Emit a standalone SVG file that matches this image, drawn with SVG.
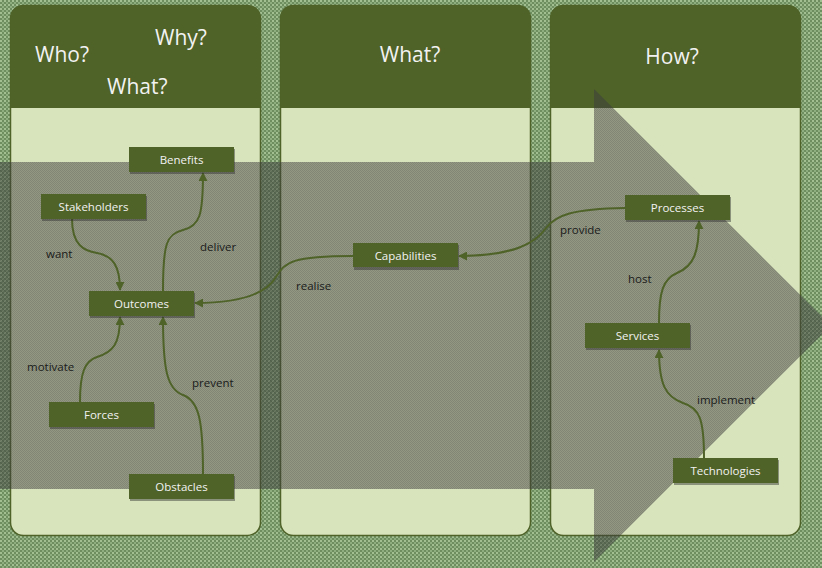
<svg xmlns="http://www.w3.org/2000/svg" width="822" height="568" viewBox="0 0 822 568">
<defs>
<pattern id="bg" width="4" height="4" patternUnits="userSpaceOnUse">
<rect width="4" height="4" fill="#6e8e60"/>
<rect x="0" y="0" width="2" height="2" fill="#a2bf92"/>
<rect x="2" y="2" width="2" height="2" fill="#8fae80"/>
</pattern>
<pattern id="ov" width="2" height="2" patternUnits="userSpaceOnUse">
<rect width="2" height="2" fill="#3c3c3c" fill-opacity="0.45"/>
<rect width="1" height="1" fill="#3c3c3c" fill-opacity="0.2"/>
<rect x="1" y="1" width="1" height="1" fill="#3c3c3c" fill-opacity="0.2"/>
</pattern>
<marker id="ah" viewBox="0 0 10 10" refX="9" refY="5" markerWidth="9" markerHeight="9" markerUnits="userSpaceOnUse" orient="auto">
<path d="M0,0 L10,5 L0,10 Z" fill="#4f6228"/>
</marker>
<style>
.body{fill:#d8e4bc;stroke:#4f6228;stroke-width:1.5}
.head{fill:#4f6228}
.ht{font-family:"Open Sans",sans-serif;font-size:21px;fill:#f2f2f2}
.node rect.n{fill:#4f6228}
.node rect.s{fill:#2e2e2e;fill-opacity:0.45}
.node text{font-family:"Open Sans",sans-serif;font-size:11.5px;fill:#f2f2f2;text-anchor:middle}
.con path{fill:none;stroke:#4f6228;stroke-width:2;marker-end:url(#ah)}
.lbl{font-family:"Open Sans",sans-serif;font-size:11.5px;fill:#1a1a1a}
</style>
</defs>
<rect width="822" height="568" fill="url(#bg)"/>
<g id="panel-who">
<rect class="body" x="10.5" y="5.5" width="250" height="530" rx="13"/>
<path class="head" d="M10.5,108 V19.5 Q10.5,5.5 24.5,5.5 H246.5 Q260.5,5.5 260.5,19.5 V108 Z"/>
<text class="ht" x="35" y="62">Who?</text>
<text class="ht" x="155" y="45">Why?</text>
<text class="ht" x="107" y="94">What?</text>
</g>
<g id="panel-what">
<rect class="body" x="280.5" y="5.5" width="250" height="530" rx="13"/>
<path class="head" d="M280.5,108 V19.5 Q280.5,5.5 294.5,5.5 H516.5 Q530.5,5.5 530.5,19.5 V108 Z"/>
<text class="ht" x="410" y="62" text-anchor="middle">What?</text>
</g>
<g id="panel-how">
<rect class="body" x="550.5" y="5.5" width="250" height="530" rx="13"/>
<path class="head" d="M550.5,108 V19.5 Q550.5,5.5 564.5,5.5 H786.5 Q800.5,5.5 800.5,19.5 V108 Z"/>
<text class="ht" x="672" y="64" text-anchor="middle">How?</text>
</g>
<path id="big-arrow" d="M0,162 H594 V89 L831,325.5 L594,562 V489 H0 Z" fill="url(#ov)"/>
<g class="con" id="connectors">
<path d="M72,219 C72,245 84,251 97,253 C113,256 120,266 120,290"/>
<path d="M163,291 C163,245 166,234 183,230 C200,226 203,215 203,173"/>
<path d="M80,402 C80,372 85,361 97,357 C113,352 120,344 120,317"/>
<path d="M203,474 C203,420 199,401 183,395 C167,389 163,370 163,317"/>
<path d="M353,256 C292,256 285,262 276,277 C266,294 240,303 195,303"/>
<path d="M625,208 C572,209 556,215 546,228 C535,244 512,256 459,256"/>
<path d="M659,323 C659,292 663,279 677,273 C694,266 699,252 699,221"/>
<path d="M704,458 C704,420 700,408 683,403 C666,397 659,385 659,350"/>
</g>
<g id="labels">
<text class="lbl" x="46" y="258">want</text>
<text class="lbl" x="200" y="251">deliver</text>
<text class="lbl" x="27" y="371">motivate</text>
<text class="lbl" x="192" y="387">prevent</text>
<text class="lbl" x="296" y="290">realise</text>
<text class="lbl" x="560" y="234">provide</text>
<text class="lbl" x="628" y="283">host</text>
<text class="lbl" x="697" y="404">implement</text>
</g>
<g class="node" id="node-benefits"><rect class="s" x="130" y="149" width="105" height="25"/><rect class="n" x="129" y="147" width="105" height="25"/><text x="181.5" y="163.5">Benefits</text></g>
<g class="node" id="node-stakeholders"><rect class="s" x="42" y="196" width="105" height="25"/><rect class="n" x="41" y="194" width="105" height="25"/><text x="93.5" y="210.5">Stakeholders</text></g>
<g class="node" id="node-outcomes"><rect class="s" x="90" y="293" width="105" height="25"/><rect class="n" x="89" y="291" width="105" height="25"/><text x="141.5" y="307.5">Outcomes</text></g>
<g class="node" id="node-forces"><rect class="s" x="50" y="404" width="105" height="25"/><rect class="n" x="49" y="402" width="105" height="25"/><text x="101.5" y="418.5">Forces</text></g>
<g class="node" id="node-obstacles"><rect class="s" x="130" y="476" width="105" height="25"/><rect class="n" x="129" y="474" width="105" height="25"/><text x="181.5" y="491">Obstacles</text></g>
<g class="node" id="node-capabilities"><rect class="s" x="354" y="245" width="105" height="25"/><rect class="n" x="353" y="243" width="105" height="24"/><text x="405.5" y="259.5">Capabilities</text></g>
<g class="node" id="node-processes"><rect class="s" x="626" y="197" width="105" height="25"/><rect class="n" x="625" y="195" width="105" height="25"/><text x="677.5" y="212">Processes</text></g>
<g class="node" id="node-services"><rect class="s" x="586" y="325" width="105" height="25"/><rect class="n" x="585" y="323" width="105" height="25"/><text x="637.5" y="340">Services</text></g>
<g class="node" id="node-technologies"><rect class="s" x="674" y="460" width="105" height="25"/><rect class="n" x="673" y="458" width="105" height="25"/><text x="725.5" y="475">Technologies</text></g>
</svg>
